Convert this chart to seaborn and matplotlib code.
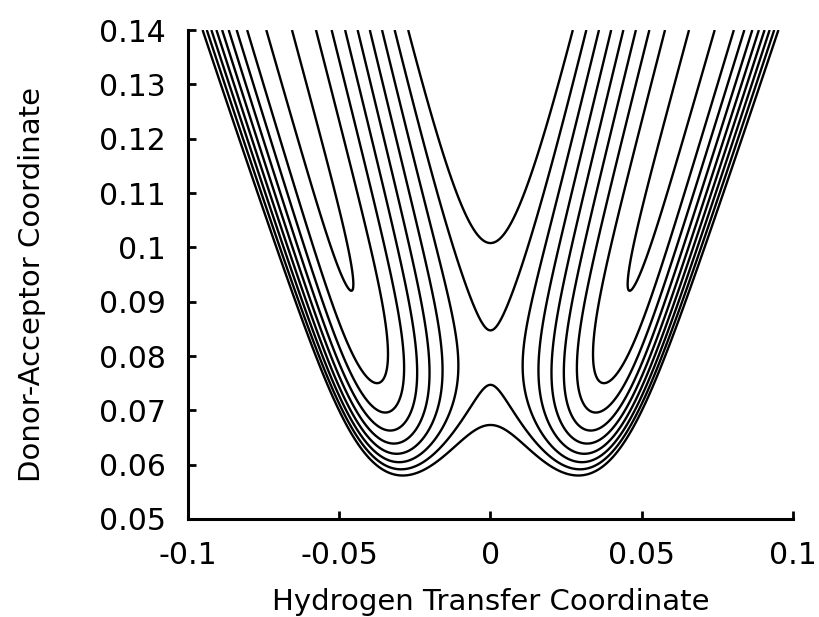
import numpy as np
import matplotlib
matplotlib.use("Agg")
import matplotlib.pyplot as plt
import seaborn as sns

# ---- data ----
x_ticks = [-0.1, -0.05, 0, 0.05, 0.1]
x_tick_labels = ["-0.1", "-0.05", "0", "0.05", "0.1"]
y_ticks = [0.05, 0.06, 0.07, 0.08, 0.09, 0.1, 0.11, 0.12, 0.13, 0.14]
y_tick_labels = ["0.05", "0.06", "0.07", "0.08", "0.09", "0.1", "0.11", "0.12", "0.13", "0.14"]
contour_levels = [0, 1, 2, 3, 4, 5, 6, 7, 8]

# model surface parameters (double well in x)
well_half_slope = 0.5            # well position x0 = 0.5 * y
floor_amp = 1.1667               # valley floor E(y) = A exp(-k (y - y_r)) + E_inf
floor_decay = 114.5
floor_ref_y = 0.075
floor_inf = -0.1667
barrier_slope = 82.3             # barrier height B(y) = b1 * y + b0
barrier_offset = -0.189

x_grid = np.linspace(-0.1, 0.1, 801)
y_grid = np.linspace(0.05, 0.14, 601)

XX, YY = np.meshgrid(x_grid, y_grid)
x0 = well_half_slope * YY
floor = floor_amp * np.exp(-floor_decay * (YY - floor_ref_y)) + floor_inf
barrier = barrier_slope * YY + barrier_offset
V = floor + barrier * ((XX / x0) ** 2 - 1) ** 2

sns.set_style("ticks")
plt.rcParams['font.family'] = ['DejaVu Sans']
plt.rcParams['text.color'] = 'black'
plt.rcParams['axes.labelcolor'] = 'black'

fig = plt.figure(figsize=(8.2, 6.17), dpi=100)
ax = fig.add_axes([188/820, 1-519/617, 605/820, 489/617])
ax.contour(XX, YY, V, levels=contour_levels, colors='black', linewidths=1.7)

ax.set_xlim(-0.1, 0.1)
ax.set_ylim(0.05, 0.14)
ax.set_xticks(x_ticks)
ax.set_xticklabels(x_tick_labels)
ax.set_yticks(y_ticks)
ax.set_yticklabels(y_tick_labels)
ax.tick_params(direction='in', length=6, width=2, labelsize=21.5, pad=16,
               colors='black', labelcolor='black')
for s in ['top', 'right']:
    ax.spines[s].set_visible(False)
for s in ['left', 'bottom']:
    ax.spines[s].set_linewidth(2.2)
    ax.spines[s].set_color('black')

ax.set_xlabel("Hydrogen Transfer Coordinate", fontsize=21, va='center', color='black')
ax.xaxis.set_label_coords(0.5, -0.17)
ax.set_ylabel("Donor-Acceptor Coordinate", fontsize=21, va='center', color='black')
ax.yaxis.set_label_coords(-0.258, 0.48)

fig.savefig("out.png", dpi=100)
